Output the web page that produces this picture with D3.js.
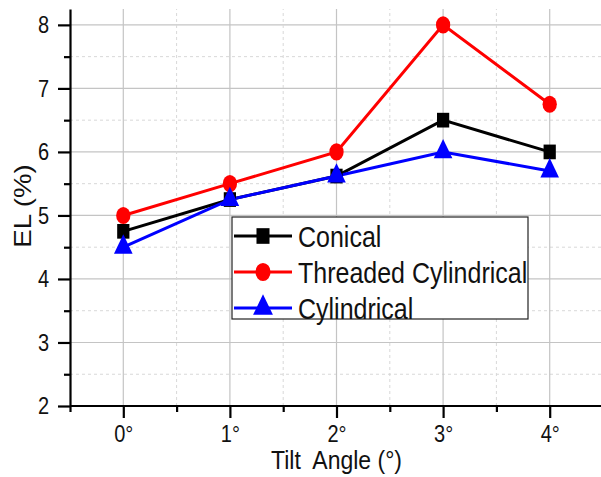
<!DOCTYPE html>
<html>
<head>
<meta charset="utf-8">
<script src="https://cdn.jsdelivr.net/npm/d3@7"></script>
<style>
  body { margin: 0; background: #fff; }
  text { font-family: "Liberation Sans", Arial, sans-serif; fill: #111; }
</style>
</head>
<body>
<div id="myDiv"></div>
<script>
// data
var angles = [0, 1, 2, 3, 4];
var angleLabels = ['0°', '1°', '2°', '3°', '4°'];
var conical = [4.75, 5.25, 5.62, 6.5, 6.0];
var threaded = [5.0, 5.5, 6.0, 8.0, 6.75];
var cylindrical = [4.5, 5.25, 5.62, 6.0, 5.7];
var yTicks = [2, 3, 4, 5, 6, 7, 8];
var seriesNames = ['Conical', 'Threaded Cylindrical', 'Cylindrical'];
var seriesColors = ['#000000', '#ff0000', '#0000ff'];
var seriesShapes = [d3.symbolSquare, d3.symbolCircle, d3.symbolTriangle];

var width = 601, height = 477;
var stretch = 1.2; // the picture is a bit taller than wide
var margin = {left: 70, top: 9, bottom: 71};

var svg = d3.select('#myDiv').append('svg')
  .attr('width', width).attr('height', height);

var x = d3.scaleLinear().domain([-0.5, 4.5]).range([margin.left, margin.left + 533]);
var y = d3.scaleLinear().domain([2, 8.25]).range([height - margin.bottom, margin.top]);

// grid
var grid = svg.append('g');
yTicks.forEach(function (v) {
  grid.append('line').attr('x1', x(-0.5)).attr('x2', width).attr('y1', y(v)).attr('y2', y(v))
    .attr('stroke', '#c4c4c4').attr('stroke-width', 1.2);
  if (v < 8) {
    grid.append('line').attr('x1', x(-0.5)).attr('x2', width).attr('y1', y(v + 0.5)).attr('y2', y(v + 0.5))
      .attr('stroke', '#d8d8d8').attr('stroke-width', 1).attr('stroke-dasharray', '3,3');
  }
});
angles.forEach(function (a) {
  grid.append('line').attr('x1', x(a)).attr('x2', x(a)).attr('y1', y(2)).attr('y2', y(8.25))
    .attr('stroke', '#c4c4c4').attr('stroke-width', 1.2);
  if (a < 4) {
    grid.append('line').attr('x1', x(a + 0.5)).attr('x2', x(a + 0.5)).attr('y1', y(2)).attr('y2', y(8.25))
      .attr('stroke', '#d8d8d8').attr('stroke-width', 1).attr('stroke-dasharray', '3,3');
  }
});

// axes
var yAxis = svg.append('g').attr('transform', 'translate(' + x(-0.5) + ',0)')
  .call(d3.axisLeft(y).tickValues(yTicks).tickFormat(d3.format('d')).tickSize(12).tickSizeOuter(0).tickPadding(9));
svg.append('g').attr('transform', 'translate(' + x(-0.5) + ',0)')
  .call(d3.axisLeft(y).tickValues(d3.range(2.5, 8, 1)).tickFormat('').tickSize(6).tickSizeOuter(0))
  .select('.domain').remove();
var xAxis = svg.append('g').attr('transform', 'translate(0,' + y(2) + ')')
  .call(d3.axisBottom(x).tickValues(angles).tickFormat(function (d, i) { return angleLabels[i]; })
    .tickSize(12).tickSizeOuter(0).tickPadding(4));
svg.append('g').attr('transform', 'translate(0,' + y(2) + ')')
  .call(d3.axisBottom(x).tickValues(d3.range(-0.5, 4.6, 1)).tickFormat('').tickSize(6).tickSizeOuter(0))
  .select('.domain').remove();

svg.selectAll('.domain').attr('stroke', '#000').attr('stroke-width', 2.2);
svg.selectAll('.tick line').attr('stroke', '#000').attr('stroke-width', 2.2);
svg.selectAll('.tick text').style('font-size', '20px')
  .style('font-family', '"Liberation Sans", Arial, sans-serif').attr('fill', '#111')
  .attr('transform', 'scale(1,' + stretch + ')');
// extend x axis line to the edge
xAxis.select('.domain').attr('d', 'M' + x(-0.5) + ',0H' + width);

// axis titles
svg.append('text').attr('transform', 'translate(31,206) rotate(-90) scale(' + stretch + ',1)')
  .attr('text-anchor', 'middle').style('font-size', '23px').text('EL (%)');
svg.append('text').attr('transform', 'translate(' + x(2) + ',469) scale(1,1.15)')
  .attr('text-anchor', 'middle').style('font-size', '23px').attr('xml:space', 'preserve').text('Tilt  Angle (°)');

// series
var allSeries = [conical, threaded, cylindrical];
var line = d3.line().x(function (d, i) { return x(angles[i]); }).y(function (d) { return y(d); });
var symSizes = [150, 160, 150];

allSeries.forEach(function (vals, k) {
  svg.append('path').datum(vals).attr('d', line).attr('fill', 'none')
    .attr('stroke', seriesColors[k]).attr('stroke-width', 3);
});
allSeries.forEach(function (vals, k) {
  svg.append('g').selectAll('path').data(vals).enter().append('path')
    .attr('transform', function (d, i) {
      return 'translate(' + x(angles[i]) + ',' + y(d) + ') scale(1,' + stretch + ')';
    })
    .attr('d', d3.symbol().type(seriesShapes[k]).size(symSizes[k]))
    .attr('fill', seriesColors[k]);
});

// legend
var lg = svg.append('g').attr('transform', 'translate(232,217)');
lg.append('rect').attr('width', 296).attr('height', 102).attr('fill', '#fff')
  .attr('stroke', '#222').attr('stroke-width', 1.2);
seriesNames.forEach(function (name, k) {
  var cy = 19 + k * 36;
  lg.append('line').attr('x1', 2).attr('x2', 60).attr('y1', cy).attr('y2', cy)
    .attr('stroke', seriesColors[k]).attr('stroke-width', 3);
  lg.append('path').attr('transform', 'translate(31,' + cy + ') scale(1,' + stretch + ')')
    .attr('d', d3.symbol().type(seriesShapes[k]).size(symSizes[k] + 20)).attr('fill', seriesColors[k]);
  lg.append('text').attr('transform', 'translate(66,' + (cy + 11) + ') scale(1,' + stretch + ')')
    .style('font-size', '25px').text(name);
});
</script>
</body>
</html>
